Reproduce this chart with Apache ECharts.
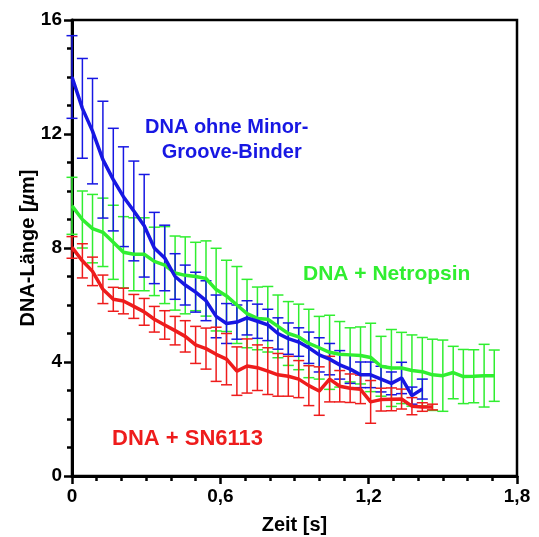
<!DOCTYPE html>
<html>
<head>
<meta charset="utf-8">
<script src="https://cdn.jsdelivr.net/npm/echarts@6/dist/echarts.min.js"></script>
<style>
html,body{margin:0;padding:0;background:#fff;}
#main{width:539px;height:537px;}
</style>
</head>
<body>
<div id="main"></div>
<script>
// Zeitpunkte (s), Abstand ca. 1/24 s
var times = [0, 0.042, 0.083, 0.125, 0.167, 0.208, 0.25, 0.292, 0.333, 0.375,
    0.417, 0.458, 0.5, 0.542, 0.583, 0.625, 0.667, 0.708, 0.75, 0.792,
    0.833, 0.875, 0.917, 0.958, 1.0, 1.042, 1.083, 1.125, 1.167, 1.208,
    1.25, 1.292, 1.333, 1.375, 1.417, 1.458, 1.5, 1.542, 1.583, 1.625,
    1.667, 1.708];

// DNA ohne Minor-Groove-Binder
var blueMean = [14.0, 12.9, 12.1, 11.1, 10.4, 9.8, 9.3, 8.78, 8.0, 7.65,
    7.0, 6.7, 6.45, 6.15, 5.6, 5.35, 5.4, 5.55, 5.43, 5.3,
    5.0, 4.82, 4.7, 4.5, 4.25, 4.1, 3.9, 3.75, 3.55, 3.55,
    3.4, 3.25, 3.44, 2.82, 3.05];
var blueSd = [1.45, 1.75, 1.85, 2.05, 1.8, 1.75, 1.75, 1.8, 1.25, 1.15,
    0.8, 0.7, 0.7, 0.7, 0.75, 0.7, 0.6, 0.6, 0.6, 0.55,
    0.55, 0.55, 0.5, 0.55, 0.6, 0.55, 0.5, 0.5, 0.45, 0.45,
    0.45, 0.4, 0.55, 0.3, 0.35];

// DNA + Netropsin
var greenMean = [9.48, 9.0, 8.68, 8.55, 8.2, 7.85, 7.78, 7.78, 7.53, 7.4,
    7.12, 7.04, 7.0, 6.93, 6.54, 6.32, 6.0, 5.7, 5.53, 5.5,
    5.25, 5.0, 4.88, 4.65, 4.5, 4.34, 4.27, 4.25, 4.23, 4.16,
    3.85, 3.79, 3.79, 3.7, 3.66, 3.55, 3.52, 3.63, 3.49, 3.5,
    3.52, 3.52];
var greenSd = [1.0, 1.0, 1.2, 1.2, 1.3, 1.25, 1.28, 1.28, 1.2, 1.35,
    1.3, 1.35, 1.2, 1.32, 1.45, 1.25, 1.35, 1.2, 1.1, 1.15,
    1.1, 1.12, 1.15, 1.2, 1.1, 1.3, 1.15, 0.95, 1.0, 1.2,
    1.05, 1.35, 1.25, 1.25, 1.2, 1.25, 1.25, 0.92, 0.95, 0.93,
    1.1, 0.9];

// DNA + SN6113
var redMean = [8.02, 7.55, 7.18, 6.55, 6.2, 6.14, 5.95, 5.76, 5.5, 5.3,
    5.1, 4.9, 4.6, 4.47, 4.27, 4.1, 3.68, 3.86, 3.8, 3.68,
    3.55, 3.5, 3.4, 3.17, 2.98, 3.4, 3.15, 3.08, 3.04, 2.6,
    2.68, 2.69, 2.7, 2.45, 2.42, 2.42];
var redSd = [0.38, 0.6, 0.5, 0.5, 0.42, 0.45, 0.42, 0.47, 0.45, 0.5,
    0.5, 0.55, 0.65, 0.72, 0.95, 0.9, 0.85, 0.95, 0.8, 0.82,
    0.75, 0.7, 0.65, 0.7, 0.85, 0.8, 0.55, 0.5, 0.5, 0.75,
    0.4, 0.4, 0.35, 0.3, 0.15, 0.1];

var xTicks = [0, 0.6, 1.2, 1.8];
var yTicks = [0, 4, 8, 12, 16];

var BLUE = '#1717e3', GREEN = '#30ee30', RED = '#ee1c1c';
var FONT = '"Liberation Sans", Arial, Helvetica, sans-serif';

function linePts(mean) {
    var out = [];
    for (var i = 0; i < mean.length; i++) out.push([times[i], mean[i]]);
    return out;
}
function barPts(mean, sd) {
    var out = [];
    for (var i = 0; i < mean.length; i++) out.push([times[i], mean[i] - sd[i], mean[i] + sd[i]]);
    return out;
}

function errorBar(color) {
    return function (params, api) {
        var lo = api.coord([api.value(0), api.value(1)]);
        var hi = api.coord([api.value(0), api.value(2)]);
        var w = 5.5;
        var st = {stroke: color, lineWidth: 1.5};
        return {
            type: 'group',
            children: [
                {type: 'line', shape: {x1: lo[0], y1: lo[1], x2: hi[0], y2: hi[1]}, style: st},
                {type: 'line', shape: {x1: lo[0] - w, y1: lo[1], x2: lo[0] + w, y2: lo[1]}, style: st},
                {type: 'line', shape: {x1: hi[0] - w, y1: hi[1], x2: hi[0] + w, y2: hi[1]}, style: st}
            ]
        };
    };
}

var chart = echarts.init(document.getElementById('main'));

var option = {
    animation: false,
    grid: {left: 72, right: 22, top: 20, bottom: 61, show: true, outerBoundsMode: 'none',
        borderColor: '#000', borderWidth: 2.5, backgroundColor: 'transparent'},
    xAxis: {
        type: 'value', min: 0, max: 1.8, interval: 0.6,
        name: 'Zeit [s]', nameLocation: 'middle', nameGap: 39, nameMoveOverlap: false,
        nameTextStyle: {fontFamily: FONT, fontWeight: 'bold', fontSize: 20, color: '#000'},
        axisLine: {lineStyle: {color: '#000', width: 3}},
        axisTick: {length: 8, lineStyle: {color: '#000', width: 2.5}},
        minorTick: {show: true, splitNumber: 6, length: 5, lineStyle: {color: '#000', width: 2.5}},
        splitLine: {show: false},
        axisLabel: {fontFamily: FONT, fontWeight: 'bold', fontSize: 19, color: '#000', margin: 11,
            formatter: function (v) {
                return xTicks.indexOf(+v.toFixed(1)) >= 0 ? String(+v.toFixed(1)).replace('.', ',') : '';
            }}
    },
    yAxis: {
        type: 'value', min: 0, max: 16, interval: 4,
        name: 'DNA-Länge [{i|µ}m]', nameLocation: 'middle', nameGap: 34, nameMoveOverlap: false,
        nameTextStyle: {fontFamily: FONT, fontWeight: 'bold', fontSize: 20, color: '#000',
            rich: {i: {fontFamily: FONT, fontWeight: 'bold', fontStyle: 'italic', fontSize: 20, color: '#000'}}},
        axisLine: {lineStyle: {color: '#000', width: 3}},
        axisTick: {length: 8, lineStyle: {color: '#000', width: 2.5}},
        minorTick: {show: true, splitNumber: 4, length: 5, lineStyle: {color: '#000', width: 2.5}},
        splitLine: {show: false},
        axisLabel: {fontFamily: FONT, fontWeight: 'bold', fontSize: 19, color: '#000', margin: 10,
            formatter: function (v) { return yTicks.indexOf(v) >= 0 ? String(v) : ''; }}
    },
    series: [
        {type: 'custom', renderItem: errorBar(GREEN), data: barPts(greenMean, greenSd), encode: {x: 0, y: [1, 2]}, z: 2},
        {type: 'custom', renderItem: errorBar(BLUE), data: barPts(blueMean, blueSd), encode: {x: 0, y: [1, 2]}, z: 2},
        {type: 'custom', renderItem: errorBar(RED), data: barPts(redMean, redSd), encode: {x: 0, y: [1, 2]}, z: 2},
        {type: 'line', data: linePts(greenMean), showSymbol: false, lineStyle: {color: GREEN, width: 3.5}, z: 3},
        {type: 'line', data: linePts(blueMean), showSymbol: false, lineStyle: {color: BLUE, width: 3.5}, z: 3},
        {type: 'line', data: linePts(redMean), showSymbol: false, lineStyle: {color: RED, width: 3.5}, z: 3}
    ],
    graphic: [
        {type: 'text', left: 145, top: 115, style: {text: 'DNA ohne Minor-\n   Groove-Binder', fill: BLUE,
            font: 'bold 20px ' + FONT, lineHeight: 25}},
        {type: 'text', left: 303, top: 264, style: {text: 'DNA + Netropsin', fill: GREEN, font: 'bold 21px ' + FONT}},
        {type: 'text', left: 112, top: 428, style: {text: 'DNA + SN6113', fill: RED, font: 'bold 22px ' + FONT}}
    ]
};

chart.setOption(option);
</script>
</body>
</html>
